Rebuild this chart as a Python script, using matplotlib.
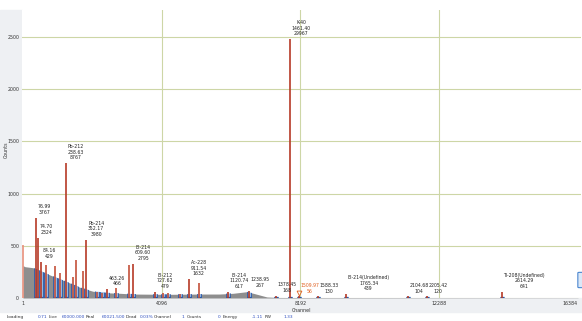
import numpy as np
import matplotlib.pyplot as plt
from matplotlib.patches import Rectangle, FancyBboxPatch

# continuum (channel, counts)
cont_ch = [1, 60, 300, 800, 1300, 1700, 2060, 2480, 2860, 3250, 4250, 5220,
           5800, 6200, 6600, 6800, 7200, 7500, 9000, 12000, 16384]
cont_counts = [310, 300, 290, 220, 155, 100, 65, 50, 45, 38, 35, 38,
               38, 45, 60, 45, 10, 5, 4, 3, 2]

# peaks: channel, height, label
peak_ch = [15, 384, 443, 531, 679, 944, 1092, 1269, 1475, 1564, 1770, 1873,
           2183, 2331, 2478, 2744, 3127, 3260, 3894, 4130, 4278, 4631, 4897,
           5207, 6048, 6667, 7464, 7877, 8142, 8703, 9529, 11358, 11918, 14131]
peak_h = [508, 770, 575, 345, 316, 307, 240, 1293, 200, 364, 260, 556,
          58, 45, 86, 96, 316, 326, 58, 45, 45, 40, 180,
          140, 60, 70, 20, 2480, 15, 15, 35, 15, 15, 60]
peak_lbl = ["", "76.99\n3767", "74.70\n2324", "84.16\n429", "", "", "",
            "Pb-212\n238.63\n8767", "", "", "", "Pb-214\n352.17\n3980",
            "", "", "463.26\n466", "", "", "Bi-214\n609.60\n2795",
            "Bi-212\n727.62\n479", "", "", "", "Ac-228\n911.54\n1632",
            "", "Bi-214\n1120.74\n617", "1238.95\n267", "1378.45\n168",
            "K-40\n1461.40\n29967", "1509.97\n56", "1588.33\n130",
            "Bi-214(Undefined)\n1765.34\n439", "2104.68\n104", "2205.42\n120",
            "Tl-208(Undefined)\n2614.29\n641"]
orange_peak = "1509.97\n56"

y_ticks = [0, 500, 1000, 1500, 2000, 2500]
x_ticks = [1, 4096, 8192, 12288, 16384]
x_grid = [4096, 8192, 12288]

status_names = ["Loading", "Live", "Real", "Dead", "Channel", "Counts", "Energy", "PW"]
status_values = ["0.71", "60000.000", "60021.500", "0.03%", "1", "0", "-1.11", "1.33"]

W, H = 582, 321
def fx(x):
    return x / W
def fy(y):
    return 1 - y / H

fig = plt.figure(figsize=(5.82, 3.21), dpi=100)
band = '#eef0f3'
fig.patches.append(Rectangle((0, fy(312)), fx(22), fy(10) - fy(312),
                             transform=fig.transFigure, color=band, zorder=-5))
fig.patches.append(Rectangle((fx(22), fy(312)), 1 - fx(22), fy(298) - fy(312),
                             transform=fig.transFigure, color=band, zorder=-5))

ax = fig.add_axes([fx(22), fy(298), fx(581) - fx(22), fy(10) - fy(298)])
ax.set_zorder(1)
ax.set_xlim(-28, 16472)
ax.set_ylim(0, 2760)
for s in ax.spines.values():
    s.set_visible(False)

grid_c = '#cdd6a6'
for v in y_ticks:
    ax.axhline(v, color=grid_c, lw=0.8, zorder=1)
for c in x_grid:
    ax.axvline(c, color=grid_c, lw=0.8, zorder=1)

ax.set_yticks(y_ticks)
ax.set_yticklabels([str(v) for v in y_ticks])
ax.set_xticks(x_ticks)
ax.set_xticklabels([str(v) for v in x_ticks])
ax.tick_params(length=0, labelsize=3.4, pad=2, colors='#333333')
ax.get_xticklabels()[-1].set_horizontalalignment('right')

# continuum
poly = ax.fill_between(cont_ch, cont_counts, color='#8e8e8e', lw=0, zorder=2)
clip = poly.get_paths()[0]

# ROI shading under continuum
for c, lb in zip(peak_ch[1:], peak_lbl[1:]):
    sp = ax.axvspan(c - 60, c + 60, facecolor='#94b8e2', edgecolor='#2a58a8',
                    lw=0.6, zorder=3)
    sp.set_clip_path(clip, ax.transData)
    ax.plot([c - 60, c + 60], [8, 8], color='#2a58a8', lw=0.9, zorder=4,
            solid_capstyle='butt')

# peaks
for i, (c, h, lb) in enumerate(zip(peak_ch, peak_h, peak_lbl)):
    col = '#e8907c' if i == 0 else ('#b63a26' if lb else '#c4503a')
    ax.vlines(c, 0, h, color=col, lw=1.2, zorder=5)
    if lb:
        tc = '#e06020' if lb == orange_peak else '#222222'
        ax.text(c + 50, h + 28, lb, fontsize=3.3, ha='left', va='bottom',
                multialignment='center', linespacing=1.15, color=tc, zorder=6)

ax.plot(8142, 45, marker='v', ms=3.5, mfc='none', mec='#e06020', mew=0.6, zorder=6)

fig.text(fx(6), fy(150), "Counts", rotation=90, fontsize=3.4,
         ha='center', va='center', color='#333333')
fig.text(fx(301), fy(310.5), "Channel", fontsize=3.4, ha='center',
         va='center', color='#333333')

name_x = [7, 49, 86, 126, 154, 187, 223, 265]
val_x = [47, 85, 125, 153, 184, 221, 263, 293]
for n, v, nx, vx in zip(status_names, status_values, name_x, val_x):
    fig.text(fx(nx), fy(317), n, fontsize=3.2, ha='left', va='center', color='#333333')
    fig.text(fx(vx), fy(317), v, fontsize=3.2, ha='right', va='center', color='#3050c0')

fig.patches.append(FancyBboxPatch((fx(579), fy(287)), fx(8), fy(273) - fy(287),
                                  boxstyle='round,pad=0.002', transform=fig.transFigure,
                                  facecolor='#dbe8f7', edgecolor='#4a86d0', lw=0.8))

fig.savefig('out.png', dpi=100)
